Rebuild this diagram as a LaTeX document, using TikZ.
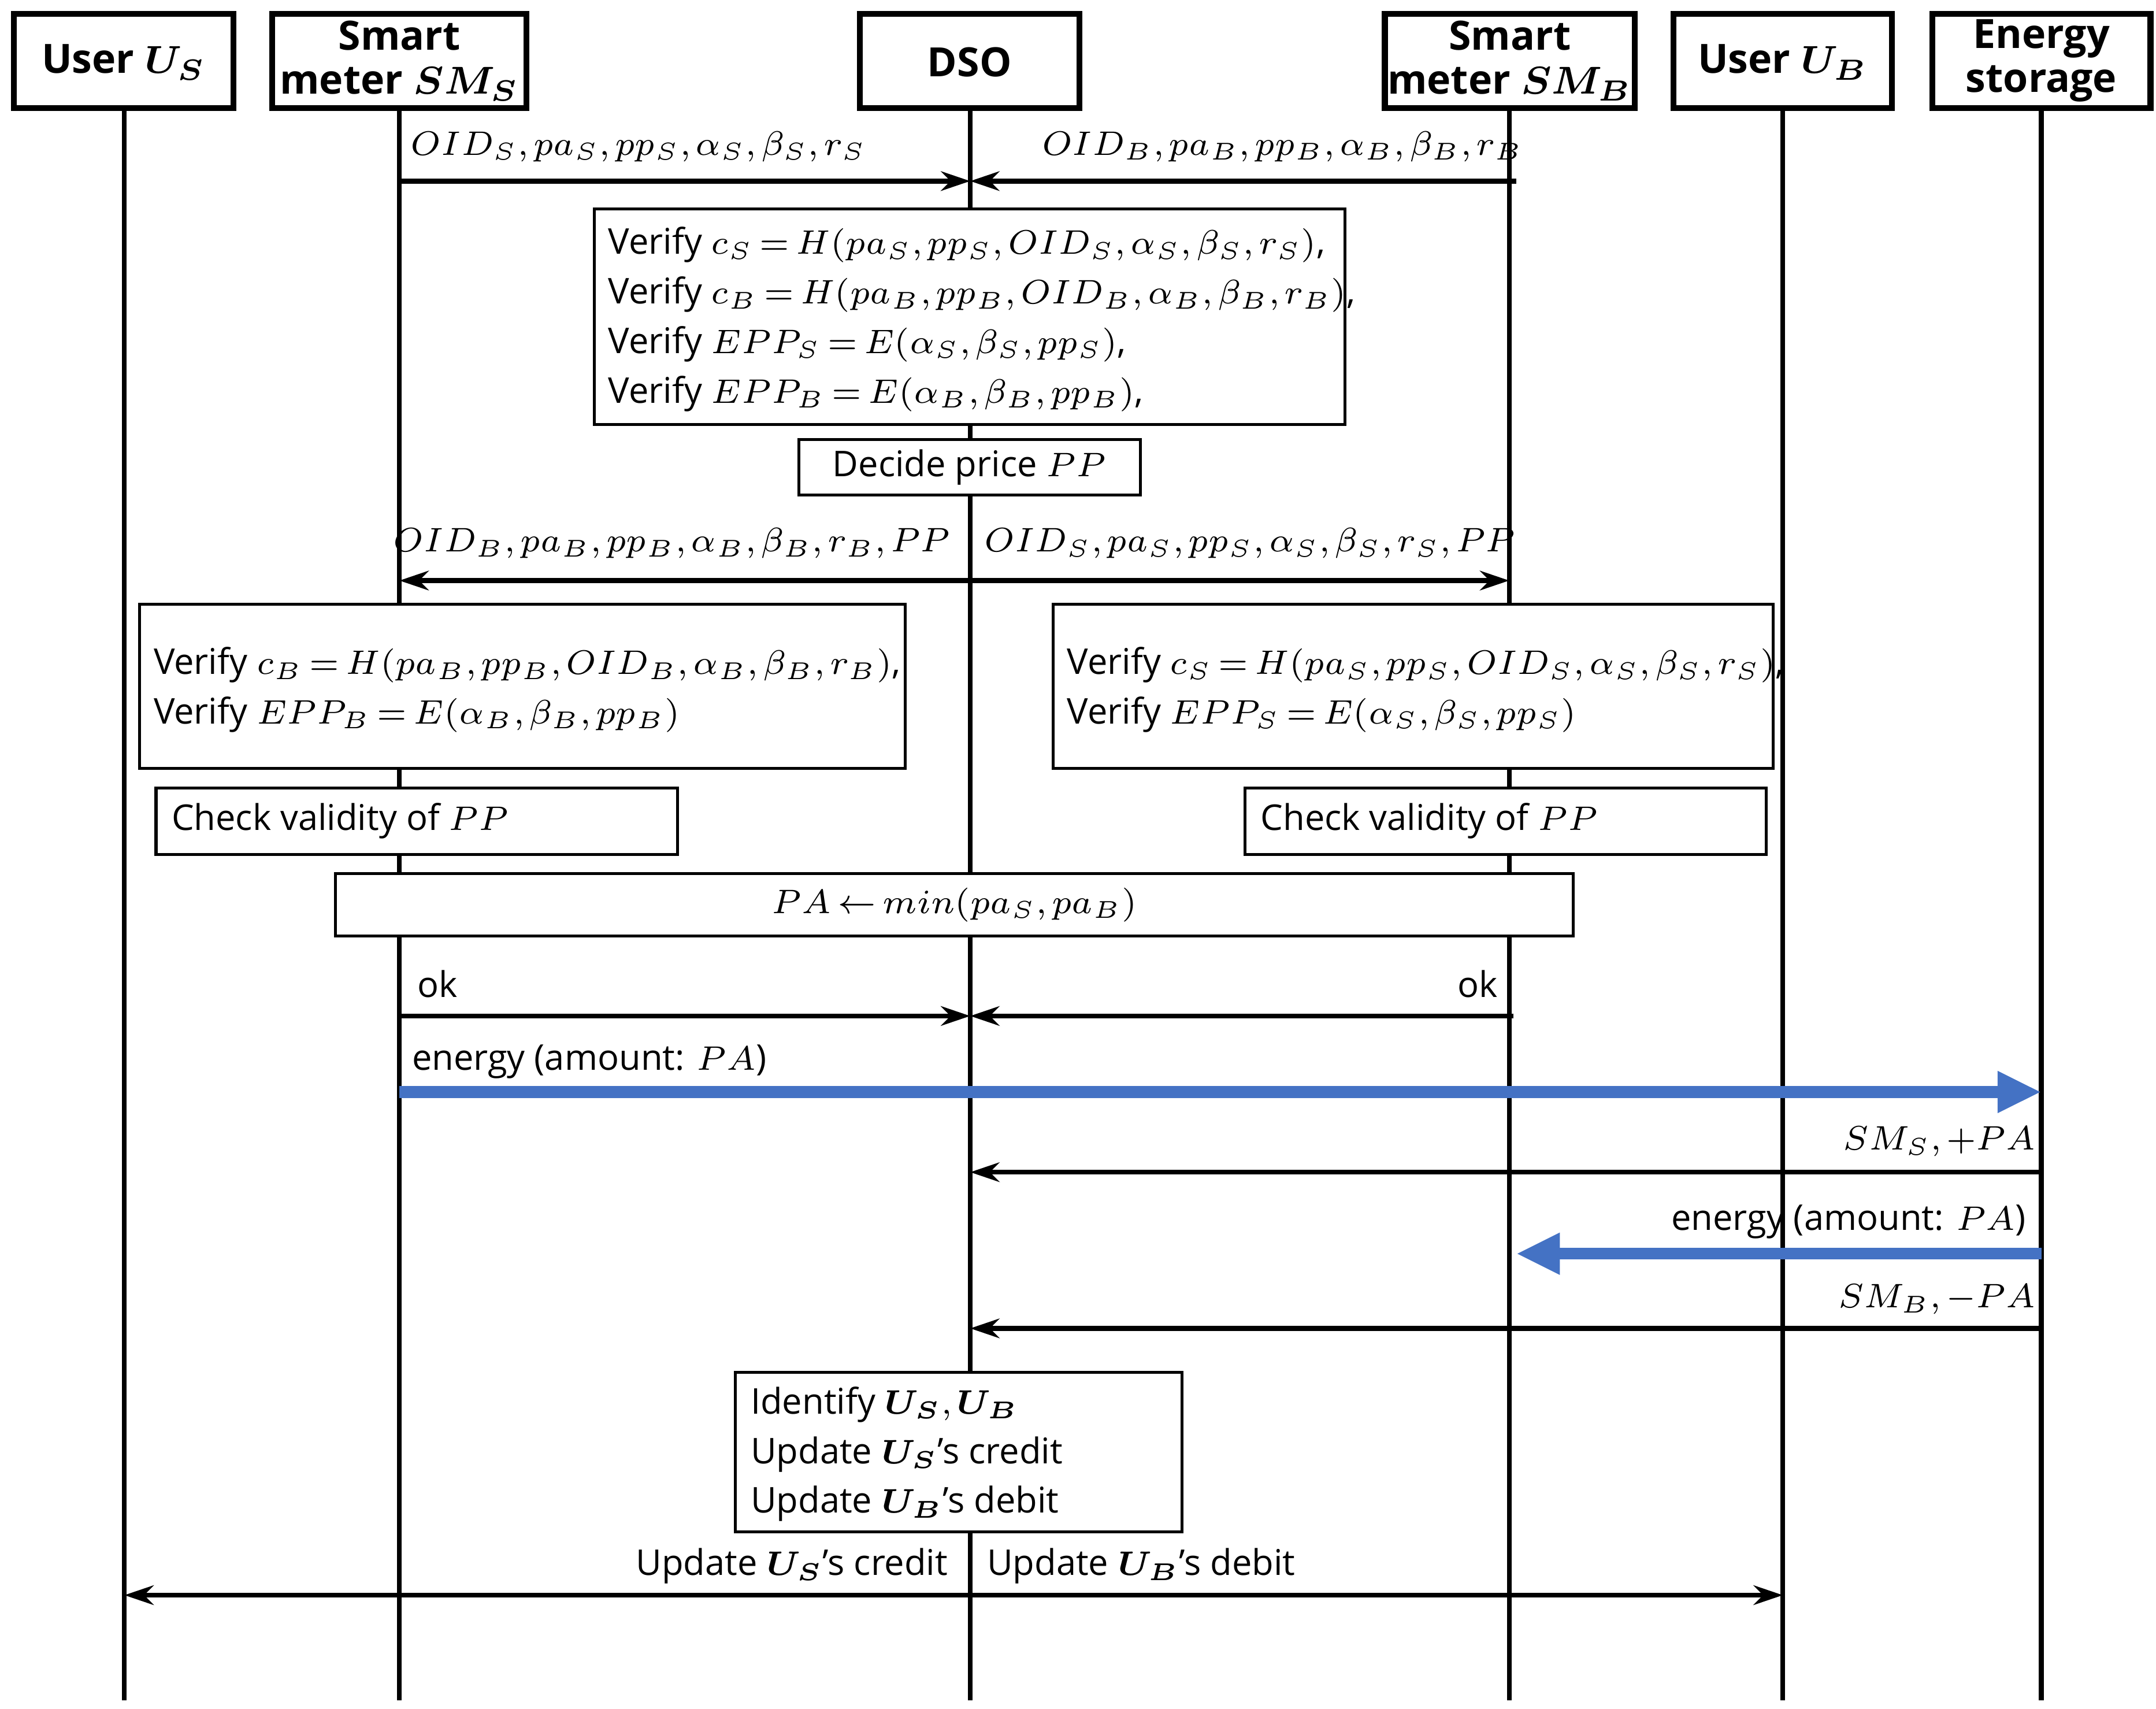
\documentclass[tikz,border=0pt]{standalone}
\usepackage{fontspec}
\usepackage{bm}
\setmainfont{Open Sans}
\usetikzlibrary{arrows.meta}
\thickmuskip=3mu plus 1mu
\medmuskip=2.5mu
\thinmuskip=2mu
\begin{document}
\begin{tikzpicture}[x=0.01cm,y=-0.01cm,
  every node/.style={font=\fontsize{7.3}{10.2}\selectfont},
  hdr/.style={align=center,inner sep=0pt,font=\fontsize{8.3}{9}\selectfont\bfseries},
  bx/.style={draw,line width=0.6pt,fill=white,inner sep=0pt},
  txt/.style={inner sep=1pt},
  life/.style={line width=1pt},
  msg/.style={line width=1pt,-{Stealth[length=6pt,width=4pt]}},
  bmsg/.style={line width=1pt,{Stealth[length=6pt,width=4pt]}-{Stealth[length=6pt,width=4pt]}},
  en/.style={line width=2.4pt,draw={rgb,255:red,68;green,114;blue,196},-{Triangle[length=9pt,width=8pt]}}]
\useasboundingbox (0,0) rectangle (1560,1236);
% lifelines
\foreach \n/\x in {us/90,sms/289,dso/702,smb/1092,ub/1290,es/1477}{
  \coordinate (\n t) at (\x,78); \coordinate (\n b) at (\x,1230);
  \draw[life] (\n t) -- (\n b);}
% headers
\draw[line width=1.2pt,fill=white] (10,10) rectangle (169,78);
\node[hdr] (hus) at (89.5,45) {User $\bm{U_S}$};
\draw[line width=1.2pt,fill=white] (197,10) rectangle (381,78);
\node[hdr] (hsms) at (289,44) {Smart\\meter $\bm{SM_S}$};
\draw[line width=1.2pt,fill=white] (622,10) rectangle (781,78);
\node[hdr] (hdso) at (701.5,45) {DSO};
\draw[line width=1.2pt,fill=white] (1002,10) rectangle (1183,78);
\node[hdr] (hsmb) at (1092.5,44) {Smart\\meter $\bm{SM_B}$};
\draw[line width=1.2pt,fill=white] (1211,10) rectangle (1369,78);
\node[hdr] (hub) at (1290,45) {User $\bm{U_B}$};
\draw[line width=1.2pt,fill=white] (1398,10) rectangle (1556,78);
\node[hdr] (hes) at (1477,44) {Energy\\storage};
% message 1
\coordinate (m1a) at (289,131); \coordinate (m1b) at (702,131); \coordinate (m1c) at (1097,131);
\draw[msg] (m1a) -- (m1b);
\draw[msg] (m1c) -- (m1b);
\node[txt] (l1a) at (462,106) {$OID_S,pa_S,pp_S,\alpha_S,\beta_S,r_S$};
\node[txt] (l1b) at (928,106) {$OID_B,pa_B,pp_B,\alpha_B,\beta_B,r_B$};
% verify box
\node[bx,minimum width=5.43cm,minimum height=1.56cm] (v1) at (701.5,229) {};
\node[txt,align=left,anchor=west] (v1t) at (436,231) {%
Verify $c_S=H(pa_S,pp_S,OID_S,\alpha_S,\beta_S,r_S)$,\\
Verify $c_B=H(pa_B,pp_B,OID_B,\alpha_B,\beta_B,r_B)$,\\
Verify $EPP_S=E(\alpha_S,\beta_S,pp_S)$,\\
Verify $EPP_B=E(\alpha_B,\beta_B,pp_B)$,};
\node[bx,minimum width=2.47cm,minimum height=0.4cm] (dp) at (701.5,338) {Decide price $PP$};
% message 2
\coordinate (m2a) at (289,420); \coordinate (m2b) at (1092,420);
\draw[bmsg] (m2a) -- (m2b);
\node[txt,anchor=east] (l2a) at (692,393) {$OID_B,pa_B,pp_B,\alpha_B,\beta_B,r_B,PP$};
\node[txt,anchor=west] (l2b) at (708,393) {$OID_S,pa_S,pp_S,\alpha_S,\beta_S,r_S,PP$};
% verify boxes
\node[bx,minimum width=5.54cm,minimum height=1.19cm] (v2) at (378,496.5) {};
\node[txt,align=left,anchor=west] (v2t) at (107,499) {%
Verify $c_B=H(pa_B,pp_B,OID_B,\alpha_B,\beta_B,r_B)$,\\
Verify $EPP_B=E(\alpha_B,\beta_B,pp_B)$};
\node[bx,minimum width=5.21cm,minimum height=1.19cm] (v3) at (1022.5,496.5) {};
\node[txt,align=left,anchor=west] (v3t) at (768,499) {%
Verify $c_S=H(pa_S,pp_S,OID_S,\alpha_S,\beta_S,r_S)$,\\
Verify $EPP_S=E(\alpha_S,\beta_S,pp_S)$};
\node[bx,minimum width=3.77cm,minimum height=0.48cm] (c1) at (301.5,594) {};
\node[txt,anchor=west] (c1t) at (120,594) {Check validity of $PP$};
\node[bx,minimum width=3.77cm,minimum height=0.48cm] (c2) at (1089.5,594) {};
\node[txt,anchor=west] (c2t) at (908,594) {Check validity of $PP$};
\node[bx,minimum width=8.95cm,minimum height=0.45cm] (pa) at (690.5,654.5) {$PA\leftarrow min(pa_S,pa_B)$};
% ok
\coordinate (m3a) at (289,735); \coordinate (m3b) at (702,735); \coordinate (m3c) at (1095,735);
\draw[msg] (m3a) -- (m3b);
\draw[msg] (m3c) -- (m3b);
\node[txt,anchor=west] (ok1) at (298,712) {ok};
\node[txt,anchor=east] (ok2) at (1088,712) {ok};
% energy
\coordinate (e1a) at (289,790); \coordinate (e1b) at (1477,790);
\draw[en] (e1a) -- (e1b);
\node[txt,anchor=west] (el1) at (294,768) {energy (amount: $PA$)};
\coordinate (m4a) at (1477,848); \coordinate (m4b) at (702,848);
\draw[msg] (m4a) -- (m4b);
\node[txt,anchor=east] (l4) at (1477,826) {$SM_S,+PA$};
\coordinate (e2a) at (1477,907); \coordinate (e2b) at (1097,907);
\draw[en] (e2a) -- (e2b);
\node[txt,anchor=east] (el2) at (1470,884) {energy (amount: $PA$)};
\coordinate (m5a) at (1477,961); \coordinate (m5b) at (702,961);
\draw[msg] (m5a) -- (m5b);
\node[txt,anchor=east] (l5) at (1477,940) {$SM_B,-PA$};
% identify
\node[bx,minimum width=3.23cm,minimum height=1.15cm] (id) at (693.5,1050.5) {};
\node[txt,align=left,anchor=west] (idt) at (539,1052) {%
Identify $\bm{U_S},\bm{U_B}$\\
Update $\bm{U_S}$'s credit\\
Update $\bm{U_B}$'s debit};
% final
\coordinate (m6a) at (90,1154); \coordinate (m6b) at (1290,1154);
\draw[bmsg] (m6a) -- (m6b);
\node[txt,anchor=east] (l6a) at (690,1133) {Update $\bm{U_S}$'s credit};
\node[txt,anchor=west] (l6b) at (710,1133) {Update $\bm{U_B}$'s debit};
\end{tikzpicture}
\end{document}
